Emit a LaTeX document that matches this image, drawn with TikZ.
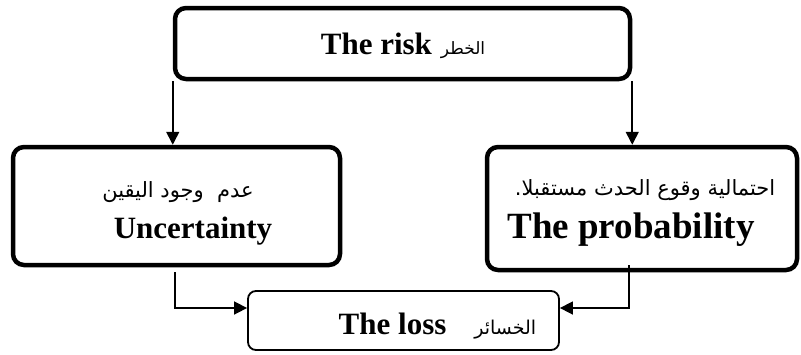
\documentclass[tikz,border=0pt]{standalone}
\usepackage{fontspec}
\setmainfont{Liberation Serif}
\newfontfamily\arabicfont[Script=Arabic]{DejaVu Sans}
\TeXXeTstate=1
\usetikzlibrary{arrows.meta}

\tikzset{
  heavybox/.style={draw, line width=4.5pt, rounded corners=11pt, inner sep=0pt, fill=white},
  lightbox/.style={draw, line width=1.8pt, rounded corners=8pt, inner sep=0pt, fill=white},
  conn/.style={line width=1.6pt, -{Triangle[length=13pt, width=13pt]}},
  entext/.style={font=\fontsize{31}{31}\selectfont\bfseries, inner sep=0pt, anchor=base},
  artext/.style={font=\fontsize{21}{21}\selectfont\arabicfont, inner sep=0pt, anchor=base},
}

\begin{document}
\begin{tikzpicture}[x=1pt, y=-1pt]
  \useasboundingbox (0,0) rectangle (801,354);

  % boxes
  \node[heavybox, minimum width=455pt, minimum height=71pt] (risk) at (402.5,43.5) {};
  \node[heavybox, minimum width=327pt, minimum height=118pt] (unc) at (176.5,206) {};
  \node[heavybox, minimum width=310pt, minimum height=123pt] (prob) at (642,208.5) {};
  \node[lightbox, minimum width=311pt, minimum height=59pt] (loss) at (403.5,320.5) {};

  % labels
  \node[inner sep=0pt, anchor=base] (risklbl) at (403,54)
    {\fontsize{31}{31}\selectfont\bfseries The risk\hspace{9pt}{\fontsize{17}{17}\selectfont\mdseries\arabicfont\beginR الخطر\endR}};
  \node[artext] (uncar) at (178,197) {\beginR عدم\ \ وجود اليقين\endR};
  \node[entext] (uncen) at (193,238) {Uncertainty};
  \node[artext] (probar) at (645,195) {\beginR احتمالية وقوع الحدث مستقبلا.\endR};
  \node[entext, font=\fontsize{37}{37}\selectfont\bfseries] (proben) at (631,238) {The probability};
  \node[inner sep=0pt, anchor=base] (losslbl) at (437.5,334)
    {\fontsize{31}{31}\selectfont\bfseries The loss\hspace{28pt}{\fontsize{19}{19}\selectfont\mdseries\arabicfont\beginR الخسائر\endR}};

  % connectors
  \coordinate (lstart) at (175,272);
  \coordinate (rstart) at (629,265);
  \draw[conn] (risk.south west) -- (risk.south west |- unc.north);
  \draw[conn] (risk.south east) -- (risk.south east |- prob.north);
  \draw[conn] (lstart) |- (loss.west |- 0,308);
  \draw[conn] (rstart) |- (loss.east |- 0,308);
\end{tikzpicture}
\end{document}
